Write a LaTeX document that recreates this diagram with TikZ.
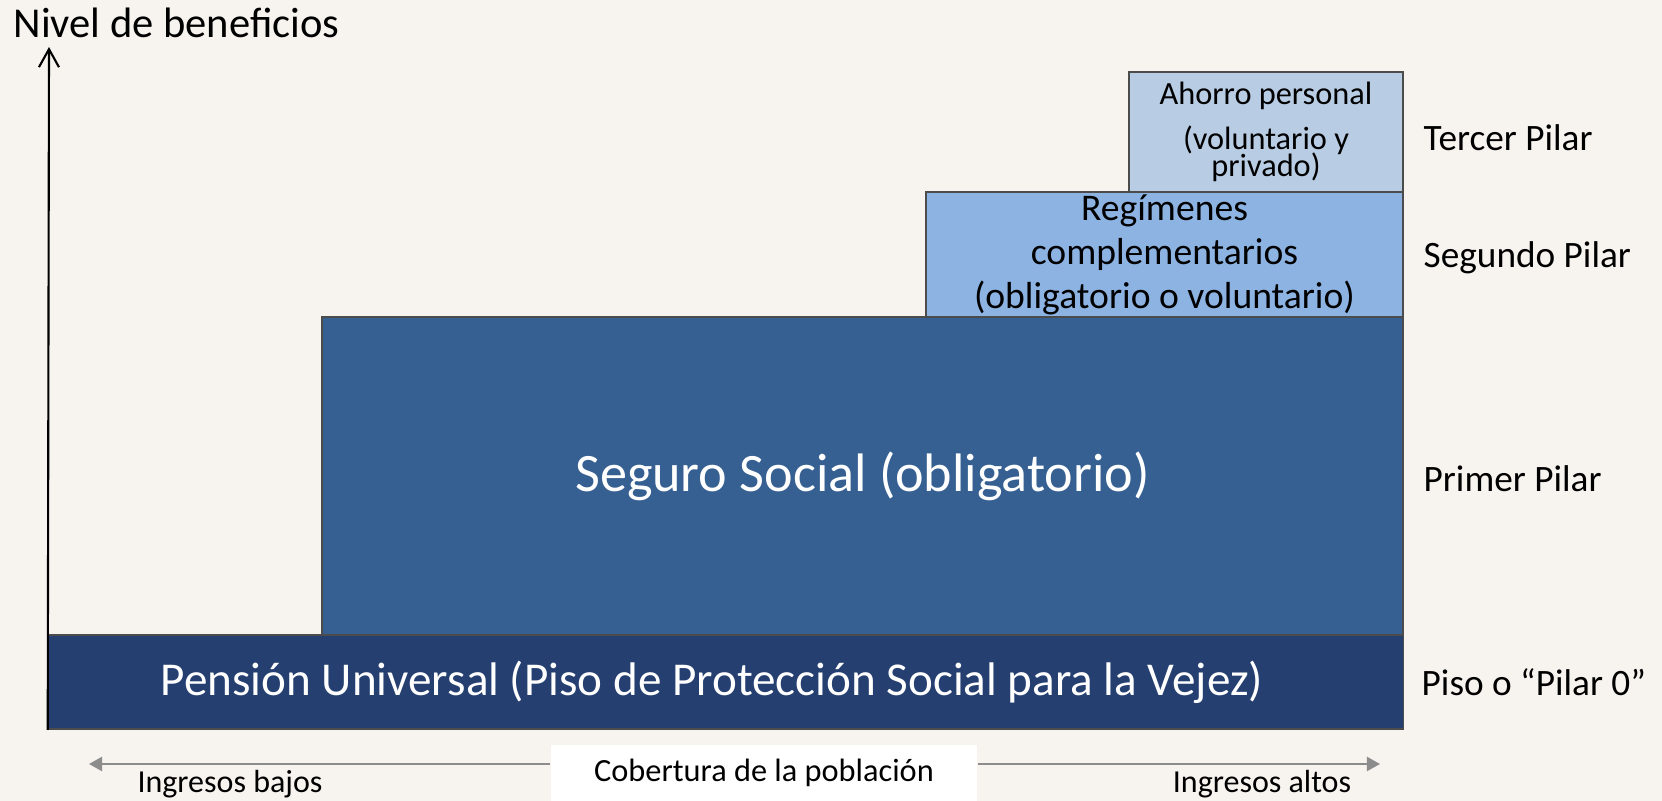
\documentclass[tikz,border=0pt]{standalone}
\usepackage{fontspec}
\setmainfont{Carlito}
\usetikzlibrary{arrows.meta}
\definecolor{fondo}{HTML}{F7F4EF}
\definecolor{pisoazul}{HTML}{243F70}
\definecolor{seguroazul}{HTML}{366092}
\definecolor{regazul}{HTML}{8DB3E2}
\definecolor{ahorroazul}{HTML}{B8CCE4}
\definecolor{ejegris}{HTML}{8C8C8C}
\newcommand\lineasjuntas{\lineskiplimit=-10pt\lineskip=0pt\relax}
\tikzset{
  pilarbox/.style={rectangle, draw=black!70, line width=0.5pt, inner sep=0pt, align=center},
  pilarlabel/.style={anchor=west, inner sep=0pt, font=\fontsize{10.6}{12}\selectfont},
  ingreso/.style={inner sep=0pt, font=\fontsize{9.1}{11}\selectfont},
  covarrow/.style={draw=ejegris, line width=0.6pt, -{Triangle[length=1.3mm,width=1.4mm]}}
}
\begin{document}
\begin{tikzpicture}[x=0.01cm,y=-0.01cm]

      \fill[fondo] (0,0) rectangle (1662,801);
      \useasboundingbox (0,0) rectangle (1662,801);

      \begin{scope}[every node/.style={pilarbox}]
        \node[fill=pisoazul, text=white, minimum width=13.54cm, minimum height=0.94cm,
              font=\fontsize{13.4}{16}\selectfont] (piso) at (726,682)
              {Pensión Universal (Piso de Protección Social para la Vejez)\hspace*{8pt}};
        \node[fill=seguroazul, text=white, minimum width=10.81cm, minimum height=3.18cm,
              font=\fontsize{15.4}{18}\selectfont] (seguro) at (862.5,476)
              {Seguro Social (obligatorio)};
        \node[fill=regazul, minimum width=4.77cm, minimum height=1.25cm,
              font=\fontsize{10.7}{12.5}\selectfont] (regimenes) at (1164.5,254.5)
              {Regímenes\\complementarios\\(obligatorio o voluntario)};
        \node[fill=ahorroazul, minimum width=2.74cm, minimum height=1.2cm,
              font=\fontsize{9.2}{7.8}\selectfont\lineasjuntas] (ahorro) at (1266,132)
              {Ahorro personal\\[5pt](voluntario y\\privado)};
      \end{scope}

      \begin{scope}[every node/.style={pilarlabel}]
        \node (tercer)  at (1423,138) {Tercer Pilar};
        \node (segundo) at (1423,258) {Segundo Pilar};
        \node (primer)  at (1423,479) {Primer Pilar};
        \node (cero)    at (1421,682) {Piso o “Pilar 0”};
      \end{scope}

      \node[anchor=base west, inner sep=0pt, font=\fontsize{12.1}{14}\selectfont] (nivel) at (13,38) {Nivel de beneficios};
      \coordinate (ejetope) at (49,47);
      \draw[line width=0.6pt, -{Straight Barb[length=1.8mm,width=2mm]}] (piso.south west) -- (ejetope);

      \coordinate (bajo) at (89,764);
      \coordinate (alto) at (1380,764);
      \node[fill=white, inner sep=0pt, minimum width=4.26cm, minimum height=0.56cm,
            font=\fontsize{9.2}{11}\selectfont] (cobertura) at (764,773) {Cobertura de la población};
      \draw[covarrow] (cobertura.west |- bajo) -- (bajo);
      \draw[covarrow] (cobertura.east |- alto) -- (alto);
      \node[ingreso] (ingbajo) at (230,784) {Ingresos bajos};
      \node[ingreso] (ingalto) at (1262,784) {Ingresos altos};

    \end{tikzpicture}
\end{document}
